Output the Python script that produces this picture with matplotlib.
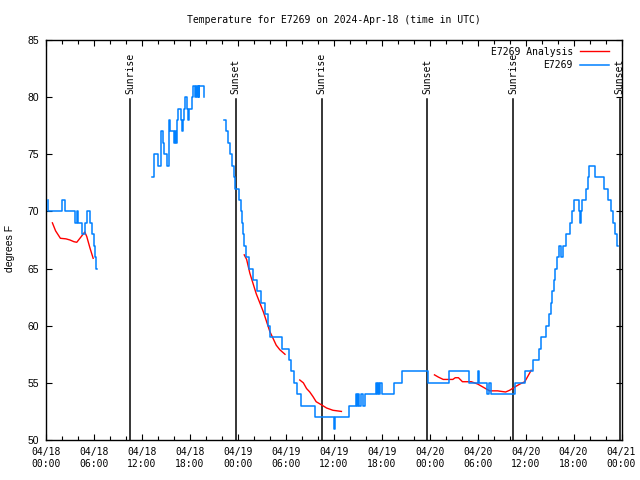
import matplotlib
matplotlib.use('Agg')
import matplotlib.pyplot as plt
from matplotlib.ticker import MultipleLocator

# hours since 04/18 00:00 UTC
obs_h1 = [0.2, 0.3, 1.95, 2.35, 3.6, 3.85, 3.95, 4.55, 4.85, 5.1, 5.55, 5.7, 5.95, 6.1, 6.3, 6.4]
obs_t1 = [71, 70, 71, 70, 69, 70, 69, 68, 69, 70, 69, 68, 67, 66, 65, 65]

obs_h2 = [13.3, 13.45, 13.55, 13.95, 14.35, 14.45, 14.6, 14.75, 15.2, 15.35, 15.45, 15.55,
          16.0, 16.2, 16.3, 16.35, 16.5, 16.9, 17.05, 17.15, 17.3, 17.45, 17.6, 17.75,
          17.9, 18.3, 18.45, 18.6, 18.75, 18.9, 19.0, 19.1, 19.2, 19.75, 19.8]
obs_t2 = [73, 74, 75, 74, 75, 77, 76, 75, 74, 76, 78, 77,
          76, 77, 76, 78, 79, 78, 77, 78, 79, 80, 79, 78,
          79, 80, 81, 80, 81, 80, 81, 80, 81, 80, 80]

obs_h3 = [22.3, 22.5, 22.75, 23.0, 23.25, 23.5, 23.7, 24.15, 24.35, 24.5, 24.6, 24.8,
          25.05, 25.45, 25.85, 26.4, 26.9, 27.45, 27.75, 28.05, 29.55, 30.35, 30.65, 31.0,
          31.45, 31.95, 33.7, 36.05, 36.15, 37.9, 38.75, 38.85, 39.0, 39.15, 39.35, 39.65,
          39.85, 41.3, 41.4, 41.5, 41.65, 41.8, 42.0, 43.5, 44.6, 47.75, 50.45, 52.95,
          54.05, 54.2, 55.15, 55.4, 55.7, 58.7, 59.9, 60.95, 61.65, 61.9, 62.55, 62.95,
          63.15, 63.35, 63.55, 63.65, 63.9, 64.2, 64.45, 64.65, 65.1, 65.6, 65.85, 66.0,
          66.7, 66.85, 66.95, 67.05, 67.5, 67.75, 67.95, 68.65, 69.85, 70.35, 70.7, 70.95,
          71.15, 71.45, 71.6]
obs_t3 = [78, 77, 76, 75, 74, 73, 72, 71, 70, 69, 68, 67,
          66, 65, 64, 63, 62, 61, 60, 59, 58, 57, 56, 55,
          54, 53, 52, 51, 52, 53, 54, 53, 54, 53, 54, 53,
          54, 55, 54, 55, 54, 55, 54, 55, 56, 55, 56, 55,
          56, 55, 54, 55, 54, 55, 56, 57, 58, 59, 60, 61,
          62, 63, 64, 65, 66, 67, 66, 67, 68, 69, 70, 71,
          70, 69, 70, 71, 72, 73, 74, 73, 72, 71, 70, 69,
          68, 67, 67]

ana_h1 = [0.8, 1.2, 1.8, 2.5, 3.0, 3.5, 3.85, 4.3, 4.85, 5.1, 5.5, 5.9]
ana_t1 = [69.0, 68.3, 67.65, 67.6, 67.5, 67.35, 67.3, 67.7, 68.2, 67.8, 66.8, 65.9]
ana_h2 = [24.8, 25.1, 25.5, 25.9, 26.3, 26.75, 27.2, 27.6, 28.0, 28.4, 28.8, 29.25, 29.9]
ana_t2 = [66.2, 65.8, 64.6, 63.7, 62.8, 62.0, 61.2, 60.35, 59.5, 58.9, 58.3, 57.9, 57.5]
ana_h3 = [31.75, 32.2, 32.6, 33.0, 33.4, 33.8, 34.5, 35.1, 35.9, 36.96]
ana_t3 = [55.25, 55.0, 54.5, 54.2, 53.8, 53.35, 53.06, 52.8, 52.6, 52.5]
ana_h4 = [48.6, 49.1, 49.7, 50.9, 51.2, 51.6, 52.1, 53.2, 54.0, 55.5, 56.5, 57.5,
          58.0, 58.8, 59.3, 59.9, 60.3, 60.7]
ana_t4 = [55.7, 55.5, 55.3, 55.3, 55.45, 55.45, 55.1, 55.1, 54.9, 54.3, 54.3, 54.2,
          54.35, 54.7, 54.9, 55.1, 55.6, 56.1]

sun_hours = [10.5, 23.75, 34.5, 47.7, 58.45, 71.75]
sun_labels = ['Sunrise', 'Sunset', 'Sunrise', 'Sunset', 'Sunrise', 'Sunset']

tick_hours = list(range(0, 73, 6))
tick_labels = ['04/18\n00:00', '04/18\n06:00', '04/18\n12:00', '04/18\n18:00',
               '04/19\n00:00', '04/19\n06:00', '04/19\n12:00', '04/19\n18:00',
               '04/20\n00:00', '04/20\n06:00', '04/20\n12:00', '04/20\n18:00',
               '04/21\n00:00']

MONO = 'DejaVu Sans Mono'
RED = '#ff0000'
BLUE = '#0080ff'

fig = plt.figure(figsize=(6.4, 4.8), dpi=100)
ax = fig.add_axes([46 / 640, 40 / 480, 575.5 / 640, 400 / 480])

# sunrise / sunset markers
for h, lab in zip(sun_hours, sun_labels):
    ax.plot([h, h], [50, 79.8], color='black', lw=1.1, zorder=1)
    ax.text(h, 80.3, lab, rotation=90, ha='center', va='bottom',
            family=MONO, fontsize=7)

# analysis (red)
first = True
for hs, ts in [(ana_h1, ana_t1), (ana_h2, ana_t2), (ana_h3, ana_t3), (ana_h4, ana_t4)]:
    ax.plot(hs, ts, color=RED, lw=1.0, zorder=2,
            label='E7269 Analysis' if first else None)
    first = False

# observations (blue, stepped)
first = True
for hs, ts in [(obs_h1, obs_t1), (obs_h2, obs_t2), (obs_h3, obs_t3)]:
    ax.plot(hs, ts, color=BLUE, lw=1.1, drawstyle='steps-post', zorder=3,
            label='E7269' if first else None)
    first = False

ax.set_xlim(0, 72)
ax.set_ylim(50, 85)
ax.set_xticks(tick_hours)
ax.set_xticklabels(tick_labels, family=MONO, fontsize=7)
ax.xaxis.set_minor_locator(MultipleLocator(2))
ax.yaxis.set_major_locator(MultipleLocator(5))
for lab in ax.get_yticklabels():
    lab.set_family('Liberation Sans')
    lab.set_fontsize(7.5)

ax.tick_params(which='both', direction='in', top=True, right=True, color='black')
ax.tick_params(which='major', length=4, width=0.8)
ax.tick_params(which='minor', length=3, width=0.8)
ax.tick_params(axis='x', pad=5)
ax.tick_params(axis='y', pad=5)
for sp in ax.spines.values():
    sp.set_linewidth(1.0)

ax.set_ylabel('degrees F', family='Liberation Sans', fontsize=7.5)
ax.yaxis.set_label_coords(-0.053, 0.48)
ax.set_title('Temperature for E7269 on 2024-Apr-18 (time in UTC)',
             family=MONO, fontsize=7, pad=12)

ax.legend(loc='upper right', bbox_to_anchor=(0.99, 1.0), frameon=False,
          markerfirst=False, prop={'family': MONO, 'size': 7},
          handlelength=3.0, handletextpad=0.7, labelspacing=0.35, borderpad=0.2)

fig.savefig('out.png', dpi=100)
